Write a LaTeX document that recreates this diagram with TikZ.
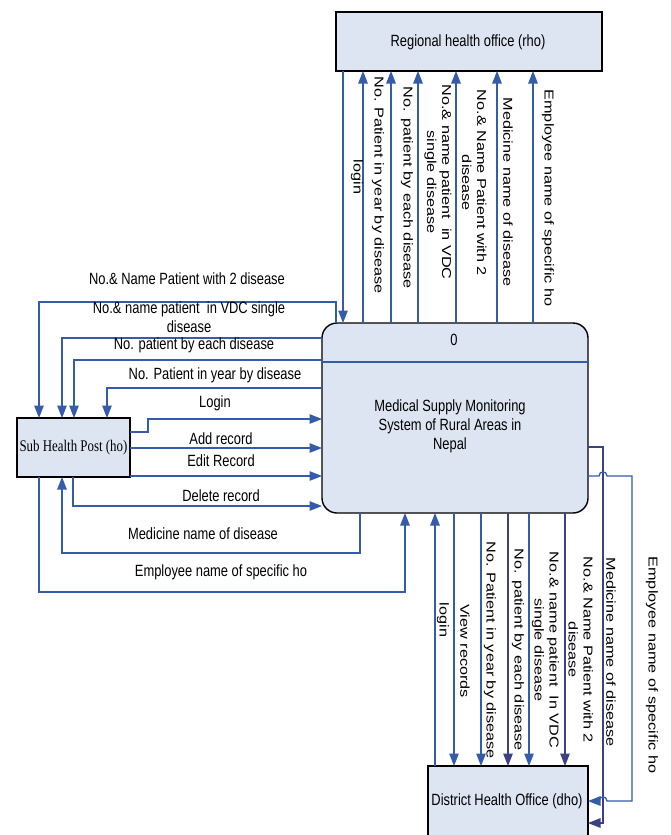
\documentclass[tikz,border=0pt]{standalone}
\usepackage{fontspec}
\setmainfont{Liberation Sans}
\newfontfamily\tnr{Liberation Serif}
\usepackage{graphicx}
\usetikzlibrary{arrows.meta}
\definecolor{flowblue}{RGB}{52,92,170}
\definecolor{flownavy}{RGB}{62,64,132}
\definecolor{boxfill}{RGB}{221,229,243}
\newcommand\HT[1]{\scalebox{1}[1.26]{#1}}
\newcommand\VT[1]{\scalebox{1.26}[1]{#1}}
\newcommand\twol[2]{\begin{tabular}{@{}c@{}}#1\\#2\end{tabular}}
\begin{document}
\begin{tikzpicture}[x=1pt,y=-1pt,
  font=\fontsize{12.9}{15}\selectfont,
  flow/.style={draw=flowblue, line width=1.3pt, -{Triangle[length=12.5pt,width=9.5pt]}},
  navyflow/.style={flow, draw=flownavy},
  box/.style={draw=black, line width=1.1pt, fill=boxfill, inner sep=0pt, outer sep=0pt},
  lab/.style={inner sep=0pt, text=black},
  vlab/.style={lab, rotate=-90}]
\useasboundingbox (0,0) rectangle (671,835);
\fill[white] (0,0) rectangle (671,835);
\clip (0,0) rectangle (671,835);

% boxes
\node[box, minimum width=266pt, minimum height=59pt] (rho) at (469,41.5) {};
\node[lab] (rhot) at (468,42) {\HT{Regional health office (rho)}};
\node[box, rounded corners=15pt, line width=1.4pt, minimum width=266pt, minimum height=190pt] (proc) at (455,418) {};
\node[lab] (procnum) at (454,340) {\HT{0}};
\node[lab, align=center] (proct) at (450,427) {\HT{\twol{Medical Supply Monitoring}{\twol{System of Rural Areas in}{Nepal}}}};
\draw[flowblue, line width=1.1pt] (proc.west |- 0,362) -- (proc.east |- 0,362);
\node[box, minimum width=113pt, minimum height=59pt] (shp) at (73.5,447.5) {};
\node[lab] (shpt) at (73.5,448) {\HT{\tnr Sub Health Post (ho)}};
\node[box, minimum width=160pt, minimum height=70pt] (dho) at (508,801) {};
\node[lab] (dhot) at (507,801) {\HT{District Health Office (dho)}};

% top flows (process <-> rho)
\draw[flow] (343,0 |- rho.south) -- (343,0 |- proc.north);
\draw[flow] (363,0 |- proc.north) -- (363,0 |- rho.south);
\draw[flow] (391,0 |- proc.north) -- (391,0 |- rho.south);
\draw[flow] (418,0 |- proc.north) -- (418,0 |- rho.south);
\draw[flow] (456,0 |- proc.north) -- (456,0 |- rho.south);
\draw[flow] (497,0 |- proc.north) -- (497,0 |- rho.south);
\draw[flow] (533,0 |- proc.north) -- (533,0 |- rho.south);
\node[vlab] (tl1) at (357,177) {\VT{login}};
\node[vlab] (tl2) at (378,185) {\VT{No. Patient in year by disease}};
\node[vlab] (tl3) at (407,188) {\VT{No. patient by each disease}};
\node[vlab] (tl4) at (437.5,182) {\VT{\twol{No.\& name patient~ in VDC}{single disease}}};
\node[vlab] (tl5) at (472.5,183) {\VT{\twol{No.\& Name Patient with 2}{disease}}};
\node[vlab] (tl6) at (508,192) {\VT{Medicine name of disease}};
\node[vlab] (tl7) at (548,198) {\VT{Employee name of specific ho}};

% left flows (process -> shp)
\draw[flow] (336,0 |- proc.north) |- (39,302) -- (39,0 |- shp.north);
\draw[flow] (proc.west |- 0,338) -| (62,0 |- shp.north);
\draw[flow] (proc.west |- 0,360) -| (74,0 |- shp.north);
\draw[flow] (proc.west |- 0,388) -| (107,0 |- shp.north);
\node[lab] (ll1) at (187,279) {\HT{No.\& Name Patient with 2 disease}};
\node[lab] (ll2) at (189,319.5) {\HT{\twol{No.\& name patient~ in VDC single}{disease}}};
\node[lab] (ll3) at (194,345) {\HT{No. patient by each disease}};
\node[lab] (ll4) at (215,375) {\HT{No. Patient in year by disease}};

% shp -> process
\draw[flow] (shp.east |- 0,432) -| (148,419) -- (proc.west |- 0,419);
\draw[flow] (shp.east |- 0,448) -- (proc.west |- 0,448);
\draw[flow] (shp.east |- 0,476) -- (proc.west |- 0,476);
\draw[flow] (73,0 |- shp.south) |- (proc.west |- 0,506);
\node[lab] (ll5) at (215,403) {\HT{Login}};
\node[lab] (ll6) at (221,439) {\HT{Add record}};
\node[lab] (ll7) at (221,461) {\HT{Edit Record}};
\node[lab] (ll8) at (221,496) {\HT{Delete record}};

% bottom-left loops
\draw[flow] (360,0 |- proc.south) |- (62,553) -- (62,0 |- shp.south);
\draw[flow] (39,0 |- shp.south) |- (405,592) -- (405,0 |- proc.south);
\node[lab] (ll9) at (203,534) {\HT{Medicine name of disease}};
\node[lab] (ll10) at (221,572) {\HT{Employee name of specific ho}};

% bottom flows (process <-> dho)
\draw[flow] (435,0 |- dho.north) -- (435,0 |- proc.south);
\draw[flow] (454,0 |- proc.south) -- (454,0 |- dho.north);
\draw[flow] (481,0 |- proc.south) -- (481,0 |- dho.north);
\draw[navyflow] (508,0 |- proc.south) -- (508,0 |- dho.north);
\draw[flow] (529,0 |- proc.south) -- (529,0 |- dho.north);
\draw[navyflow] (565,0 |- proc.south) -- (565,0 |- dho.north);
\draw[navyflow] (proc.east |- 0,447) -| (603,823) -- (dho.east |- 0,823);
\draw[flow] (proc.east |- 0,476) -- (599,476) .. controls (599,470.5) and (607,470.5) .. (607,476)
   -- (632,476) -- (632,801) -- (607,801) .. controls (607,795.5) and (599,795.5) .. (599,801)
   -- (dho.east |- 0,801);
\node[vlab] (bl1) at (443,620) {\VT{login}};
\node[vlab] (bl2) at (465,651) {\VT{View records}};
\node[vlab] (bl3) at (490,650) {\VT{No. Patient in year by disease}};
\node[vlab] (bl4) at (518,650) {\VT{No. patient by each disease}};
\node[vlab] (bl5) at (545,650) {\VT{\twol{No.\& name patient~ In VDC}{single disease}}};
\node[vlab] (bl6) at (579,650) {\VT{\twol{No.\& Name Patient with 2}{disease}}};
\node[vlab] (bl7) at (611,652) {\VT{Medicine name of disease}};
\node[vlab] (bl8) at (652,665) {\VT{Employee name of specific ho}};
\end{tikzpicture}
\end{document}
